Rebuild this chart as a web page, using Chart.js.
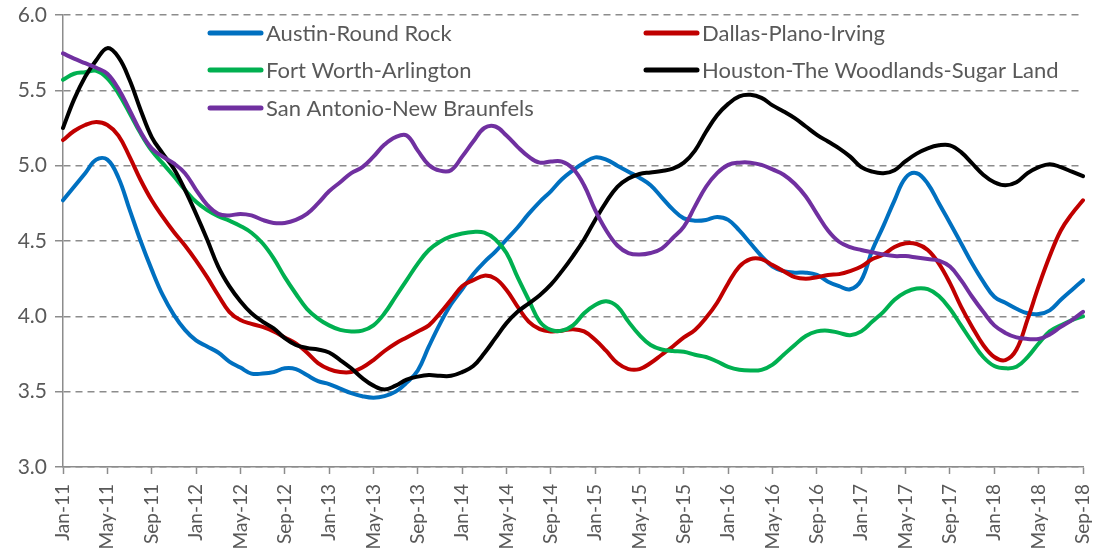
<!DOCTYPE html>
<html>
<head>
<meta charset="utf-8">
<script src="https://cdn.jsdelivr.net/npm/chart.js@4.4.1/dist/chart.umd.min.js"></script>
<style>
html,body{margin:0;padding:0;background:#fff;}
#wrap{width:1099px;height:558px;}
</style>
</head>
<body>
<div id="wrap"><canvas id="c" width="1099" height="558"></canvas></div>
<script>
// ---- categories ----
const monthNames = ['Jan','Feb','Mar','Apr','May','Jun','Jul','Aug','Sep','Oct','Nov','Dec'];
const months = [];
for (let y = 11; y <= 18; y++) {
  for (let m = 0; m < 12; m++) {
    if (y === 18 && m > 8) break;
    months.push(monthNames[m] + '-' + y);
  }
}

// ---- series ----
const austin = [
  4.77, 4.86, 4.95, 5.04, 5.04, 4.92, 4.71, 4.50, 4.31, 4.14, 4.01, 3.91,
  3.84, 3.80, 3.76, 3.70, 3.66, 3.62, 3.62, 3.63, 3.655, 3.65, 3.61, 3.57,
  3.55, 3.52, 3.49, 3.47, 3.46, 3.47, 3.50, 3.56, 3.64, 3.80, 3.95, 4.08,
  4.18, 4.28, 4.36, 4.43, 4.51, 4.59, 4.68, 4.76, 4.83, 4.91, 4.97, 5.02,
  5.055, 5.04, 5.00, 4.96, 4.92, 4.87, 4.79, 4.71, 4.65, 4.635, 4.64, 4.66,
  4.64, 4.57, 4.485, 4.40, 4.33, 4.30, 4.29, 4.29, 4.275, 4.23, 4.20, 4.18,
  4.24, 4.44, 4.60, 4.77, 4.92, 4.95, 4.88, 4.75, 4.62, 4.485, 4.35, 4.23,
  4.13, 4.09, 4.05, 4.02, 4.015, 4.04, 4.11, 4.175, 4.24
];
const dallas = [
  5.17, 5.23, 5.27, 5.29, 5.27, 5.20, 5.06, 4.905, 4.77, 4.66, 4.56, 4.47,
  4.37, 4.26, 4.14, 4.03, 3.975, 3.95, 3.93, 3.90, 3.86, 3.82, 3.76, 3.69,
  3.65, 3.63, 3.63, 3.66, 3.71, 3.77, 3.82, 3.86, 3.90, 3.94, 4.02, 4.11,
  4.20, 4.24, 4.27, 4.25, 4.175, 4.065, 3.965, 3.915, 3.90, 3.905, 3.915, 3.90,
  3.845, 3.77, 3.69, 3.65, 3.65, 3.69, 3.745, 3.80, 3.86, 3.91, 3.99, 4.09,
  4.22, 4.33, 4.38, 4.38, 4.34, 4.30, 4.26, 4.25, 4.26, 4.275, 4.28, 4.30,
  4.33, 4.38, 4.41, 4.46, 4.485, 4.48, 4.44, 4.35, 4.22, 4.065, 3.93, 3.81,
  3.73, 3.71, 3.78, 3.98, 4.20, 4.40, 4.57, 4.68, 4.77
];
const fortWorth = [
  5.57, 5.61, 5.62, 5.63, 5.58, 5.48, 5.35, 5.215, 5.10, 5.015, 4.93, 4.84,
  4.76, 4.705, 4.665, 4.635, 4.60, 4.555, 4.485, 4.385, 4.26, 4.15, 4.05, 3.985,
  3.94, 3.91, 3.90, 3.905, 3.94, 4.02, 4.13, 4.24, 4.35, 4.44, 4.495, 4.53,
  4.55, 4.56, 4.555, 4.51, 4.42, 4.26, 4.11, 3.965, 3.91, 3.905, 3.94, 4.02,
  4.075, 4.10, 4.065, 3.965, 3.875, 3.81, 3.78, 3.77, 3.765, 3.745, 3.73, 3.70,
  3.665, 3.645, 3.64, 3.645, 3.68, 3.745, 3.81, 3.87, 3.90, 3.905, 3.89, 3.875,
  3.90, 3.965, 4.03, 4.11, 4.16, 4.185, 4.18, 4.135, 4.05, 3.94, 3.83, 3.73,
  3.67, 3.655, 3.665, 3.73, 3.82, 3.90, 3.94, 3.975, 4.00
];
const houston = [
  5.25, 5.44, 5.59, 5.70, 5.78, 5.72, 5.57, 5.37, 5.19, 5.08, 4.98, 4.84,
  4.68, 4.51, 4.33, 4.20, 4.10, 4.02, 3.965, 3.92, 3.855, 3.81, 3.79, 3.78,
  3.76, 3.71, 3.655, 3.59, 3.54, 3.515, 3.54, 3.58, 3.60, 3.61, 3.605, 3.605,
  3.63, 3.67, 3.755, 3.855, 3.955, 4.03, 4.085, 4.14, 4.21, 4.30, 4.40, 4.51,
  4.64, 4.76, 4.86, 4.915, 4.945, 4.955, 4.965, 4.98, 5.02, 5.10, 5.225, 5.335,
  5.41, 5.46, 5.47, 5.45, 5.40, 5.36, 5.315, 5.26, 5.205, 5.16, 5.115, 5.06,
  4.99, 4.96, 4.95, 4.97, 5.03, 5.08, 5.115, 5.135, 5.135, 5.09, 5.015, 4.94,
  4.89, 4.87, 4.89, 4.95, 4.99, 5.01, 4.99, 4.96, 4.93
];
const sanAntonio = [
  5.745, 5.71, 5.68, 5.65, 5.61, 5.51, 5.37, 5.225, 5.115, 5.06, 5.015, 4.95,
  4.84, 4.74, 4.68, 4.67, 4.68, 4.67, 4.64, 4.62, 4.62, 4.64, 4.68, 4.75,
  4.83, 4.89, 4.95, 4.99, 5.06, 5.14, 5.19, 5.20, 5.10, 5.005, 4.967, 4.97,
  5.06, 5.16, 5.25, 5.26, 5.20, 5.125, 5.06, 5.02, 5.027, 5.027, 4.98, 4.87,
  4.705, 4.57, 4.47, 4.42, 4.41, 4.42, 4.45, 4.52, 4.595, 4.73, 4.86, 4.95,
  5.005, 5.02, 5.02, 5.005, 4.975, 4.94, 4.88, 4.795, 4.68, 4.57, 4.495, 4.46,
  4.44, 4.425, 4.41, 4.40, 4.40, 4.39, 4.38, 4.37, 4.33, 4.24, 4.13, 4.03,
  3.94, 3.89, 3.86, 3.85, 3.85, 3.88, 3.93, 3.975, 4.03
];

const seriesNames = ['Austin-Round Rock', 'Dallas-Plano-Irving', 'Fort Worth-Arlington',
                     'Houston-The Woodlands-Sugar Land', 'San Antonio-New Braunfels'];
const seriesColors = ['#0070C0', '#C00000', '#00B050', '#000000', '#7030A0'];
const seriesData = [austin, dallas, fortWorth, houston, sanAntonio];

const yMin = 3.0, yMax = 6.0, yStep = 0.5;

const gridGray = '#8c8c8c';
const textGray = '#595959';

const datasets = seriesData.map((d, k) => ({
  label: seriesNames[k],
  data: d,
  borderColor: seriesColors[k],
  backgroundColor: seriesColors[k],
  borderWidth: 4,
  pointRadius: 0,
  pointHoverRadius: 0,
  tension: 0.4,
  fill: false,
  order: seriesData.length - k,
  borderCapStyle: 'round',
  borderJoinStyle: 'round'
}));

// legend laid out in two columns inside the plot
const legendPlugin = {
  id: 'insideLegend',
  afterDraw(chart) {
    const ctx = chart.ctx;
    const area = chart.chartArea;
    const cols = [area.left + 145, area.left + 581];
    const rows = [area.top + 18, area.top + 55, area.top + 93];
    const slots = [[0,0],[1,0],[0,1],[1,1],[0,2]];
    ctx.save();
    ctx.font = '22px Lato';
    ctx.textBaseline = 'middle';
    ctx.textAlign = 'left';
    chart.data.datasets.forEach((ds, k) => {
      const [c, r] = slots[k];
      const x = cols[c], y = rows[r];
      ctx.strokeStyle = ds.borderColor;
      ctx.lineWidth = 5;
      ctx.lineCap = 'round';
      ctx.beginPath();
      ctx.moveTo(x + 2, y);
      ctx.lineTo(x + 53, y);
      ctx.stroke();
      ctx.fillStyle = textGray;
      ctx.fillText(ds.label, x + 58, y + 1);
    });
    ctx.restore();
  }
};

new Chart(document.getElementById('c'), {
  type: 'line',
  data: { labels: months, datasets },
  plugins: [legendPlugin],
  options: {
    responsive: false,
    animation: false,
    devicePixelRatio: 1,
    layout: { padding: { top: 15, right: 16, left: 0, bottom: 0 } },
    plugins: { legend: { display: false }, tooltip: { enabled: false } },
    scales: {
      x: {
        type: 'category',
        offset: false,
        afterFit(scale) {
          scale.height = 91;
          scale.paddingLeft = 0; scale.paddingRight = 0;
        },
        grid: {
          display: true,
          drawOnChartArea: false,
          drawTicks: true,
          tickLength: 7,
          tickWidth: 1.5,
          tickColor: (ctx) => (ctx.index % 4 === 0 ? gridGray : 'rgba(0,0,0,0)')
        },
        border: { display: true, color: gridGray, width: 1.5 },
        ticks: {
          autoSkip: false,
          maxRotation: 90,
          minRotation: 90,
          padding: 10,
          color: textGray,
          font: { family: 'Lato', size: 19 },
          callback: function (val, idx) { return idx % 4 === 0 ? this.getLabelForValue(val) : ''; }
        }
      },
      y: {
        min: yMin,
        max: yMax,
        afterFit(scale) {
          scale.width = 63;
          scale.paddingTop = 0; scale.paddingBottom = 0;
        },
        grid: {
          color: gridGray,
          lineWidth: 1.5,
          drawTicks: true,
          tickLength: 8,
          tickColor: gridGray
        },
        border: { display: true, color: gridGray, width: 1.5, dash: [7, 5] },
        ticks: {
          stepSize: yStep,
          padding: 8,
          color: textGray,
          font: { family: 'Lato', size: 21 },
          callback: (v) => Number(v).toFixed(1)
        }
      }
    }
  }
});
</script>
</body>
</html>
